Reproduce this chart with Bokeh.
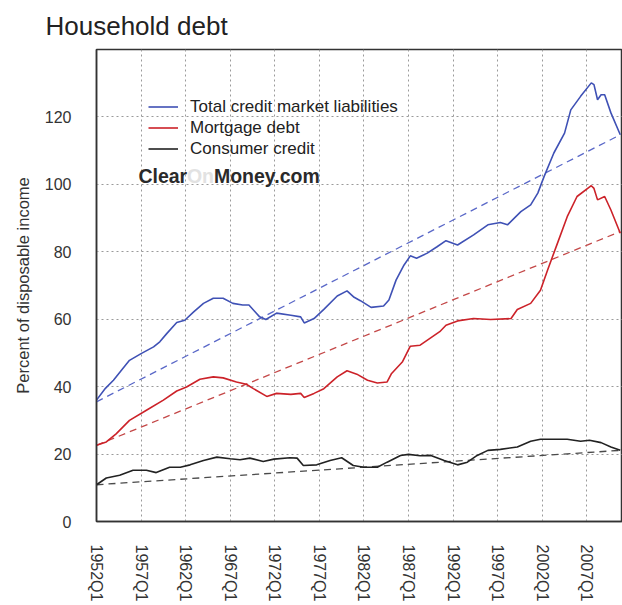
from bokeh.plotting import figure
from bokeh.models import Range1d, FixedTicker, Legend, LegendItem, Label
from bokeh.embed import file_html
from bokeh.resources import INLINE

# ---- data ----
total_x = [1952.0, 1953.0, 1953.9, 1955.0, 1955.7, 1957.0, 1958.4, 1959.1, 1959.9, 1961.0,
           1961.9, 1962.9, 1964.0, 1965.1, 1966.2, 1967.3, 1968.4, 1969.1, 1970.3, 1971.0,
           1972.2, 1973.8, 1974.9, 1975.3, 1976.4, 1977.5, 1979.0, 1980.1, 1980.9, 1981.6,
           1982.8, 1984.2, 1984.8, 1985.6, 1986.5, 1987.2, 1987.9, 1989.1, 1990.2, 1991.2,
           1992.5, 1994.3, 1995.9, 1997.3, 1998.1, 1999.6, 2000.7, 2001.5, 2002.2, 2003.3,
           2004.5, 2005.2, 2006.3, 2007.5, 2007.8, 2008.2, 2008.6, 2009.0, 2009.7, 2010.75]
total_y = [36.0, 39.5, 41.9, 45.5, 47.8, 49.8, 51.8, 53.3, 55.8, 59.0,
           59.7, 62.2, 64.7, 66.2, 66.2, 64.7, 64.2, 64.2, 60.7, 59.9,
           61.8, 61.2, 60.7, 58.9, 60.2, 62.9, 66.9, 68.4, 66.5, 65.5,
           63.5, 63.9, 65.7, 71.6, 76.1, 78.8, 78.1, 79.6, 81.5, 83.3,
           82.0, 85.0, 88.0, 88.7, 88.0, 91.9, 93.9, 97.4, 102.3, 109.3,
           115.2, 122.1, 126.1, 130.1, 129.6, 125.1, 126.6, 126.6, 121.2, 114.7]

mortgage_x = [1952.0, 1953.1, 1954.2, 1955.7, 1957.6, 1959.5, 1961.0, 1962.1, 1963.6, 1965.1,
              1966.2, 1967.7, 1968.8, 1969.6, 1971.1, 1972.2, 1973.8, 1974.9, 1975.3, 1976.4,
              1977.5, 1979.0, 1980.1, 1981.2, 1982.4, 1983.5, 1984.6, 1985.1, 1986.3, 1987.2,
              1988.3, 1989.4, 1990.5, 1991.2, 1992.5, 1994.3, 1996.2, 1998.5, 1999.2, 2000.7,
              2001.8, 2002.6, 2003.7, 2004.8, 2005.9, 2007.5, 2007.8, 2008.2, 2009.0, 2009.7,
              2010.75]
mortgage_y = [22.6, 23.6, 26.0, 30.0, 33.0, 36.0, 38.7, 39.9, 42.2, 42.9,
              42.6, 41.4, 40.7, 39.4, 37.1, 38.0, 37.7, 38.0, 36.8, 38.0,
              39.4, 42.9, 44.7, 43.7, 41.9, 41.1, 41.4, 43.9, 47.3, 52.0,
              52.3, 54.3, 56.3, 58.2, 59.5, 60.2, 59.9, 60.2, 62.9, 64.7,
              68.6, 74.6, 82.5, 90.4, 96.4, 99.6, 98.8, 95.4, 96.4, 92.4,
              85.5]

consumer_x = [1952.0, 1953.1, 1954.6, 1956.1, 1957.6, 1958.7, 1960.2, 1961.4, 1962.5, 1964.0,
              1965.5, 1967.0, 1968.1, 1969.2, 1970.7, 1971.9, 1973.7, 1974.5, 1975.2, 1976.7,
              1978.2, 1979.5, 1980.8, 1982.0, 1983.5, 1984.6, 1986.1, 1987.0, 1988.3, 1989.5,
              1991.0, 1992.5, 1993.6, 1994.7, 1995.9, 1997.3, 1999.2, 2000.7, 2001.8, 2003.7,
              2004.8, 2006.3, 2007.3, 2008.6, 2009.7, 2010.75]
consumer_y = [10.9, 12.9, 13.7, 15.2, 15.2, 14.5, 16.1, 16.1, 16.8, 18.1,
              19.1, 18.6, 18.3, 18.8, 17.8, 18.5, 18.9, 18.8, 16.6, 16.8,
              18.1, 18.9, 16.6, 16.1, 16.1, 17.6, 19.6, 19.9, 19.5, 19.6,
              18.1, 16.8, 17.6, 19.6, 21.1, 21.4, 22.1, 23.8, 24.4, 24.4,
              24.4, 23.8, 24.1, 23.4, 22.1, 21.1]

trend_x = [1952.0, 2010.75]
total_trend = [35.5, 114.7]
mortgage_trend = [22.6, 86.0]
consumer_trend = [10.9, 21.1]

tick_years = [1952, 1957, 1962, 1967, 1972, 1977, 1982, 1987, 1992, 1997, 2002, 2007]
tick_labels = ["1952Q1", "1957Q1", "1962Q1", "1967Q1", "1972Q1", "1977Q1",
               "1982Q1", "1987Q1", "1992Q1", "1997Q1", "2002Q1", "2007Q1"]
y_ticks = [0, 20, 40, 60, 80, 100, 120]
y_grid = [20, 40, 60, 80, 100, 120]
series_names = ["Total credit market liabilities", "Mortgage debt", "Consumer credit"]

FONT = "Liberation Sans"
BLUE = "#3f51b5"
RED = "#cc2229"
BLACK = "#222222"
GRID = "#9a9a9a"

p = figure(width=622, height=605, output_backend="svg", toolbar_location=None,
           x_range=Range1d(1952, 2011), y_range=Range1d(0, 140),
           min_border_left=96, min_border_right=0, min_border_bottom=84, min_border_top=0)

p.title.text = "Household debt"
p.title.text_font = FONT
p.title.text_font_size = "26px"
p.title.text_font_style = "normal"
p.title.text_color = "#222222"
p.title.align = "left"
p.title.offset = -51
p.title.standoff = 17

# frame border (top line of the plot area)
p.outline_line_color = "#333333"
p.outline_line_width = 1.5
p.outline_line_alpha = 1.0
p.background_fill_color = "white"
p.border_fill_color = "white"

# y axis
p.yaxis.ticker = FixedTicker(ticks=y_ticks)
p.yaxis.axis_label = "Percent of disposable income"
p.yaxis.axis_label_text_font = FONT
p.yaxis.axis_label_text_font_size = "16.5px"
p.yaxis.axis_label_text_font_style = "normal"
p.yaxis.axis_label_text_color = "#333333"
p.yaxis.axis_label_standoff = 10
p.yaxis.major_label_text_font = FONT
p.yaxis.major_label_text_font_size = "16px"
p.yaxis.major_label_text_color = "#333333"
p.yaxis.major_label_standoff = 25
p.yaxis.major_tick_out = 0
p.yaxis.major_tick_in = 0
p.yaxis.minor_tick_out = 0
p.yaxis.minor_tick_in = 0
p.yaxis.axis_line_color = "#333333"
p.yaxis.axis_line_width = 1.5

# x axis
p.xaxis.ticker = FixedTicker(ticks=tick_years)
p.xaxis.major_label_overrides = {yr: lbl for yr, lbl in zip(tick_years, tick_labels)}
p.xaxis.major_label_orientation = "vertical"
p.xaxis.major_label_text_font = FONT
p.xaxis.major_label_text_font_size = "16px"
p.xaxis.major_label_text_color = "#333333"
p.xaxis.major_label_standoff = 23
p.xaxis.major_tick_out = 0
p.xaxis.major_tick_in = 0
p.xaxis.minor_tick_out = 0
p.xaxis.minor_tick_in = 0
p.xaxis.axis_line_color = "#333333"
p.xaxis.axis_line_width = 1.5

# grid
p.xgrid.grid_line_color = GRID
p.xgrid.grid_line_dash = "2 3"
p.xgrid.grid_line_width = 1
p.xgrid.grid_line_alpha = 1.0
p.ygrid.ticker = FixedTicker(ticks=y_grid)
p.ygrid.grid_line_color = GRID
p.ygrid.grid_line_dash = "2 3"
p.ygrid.grid_line_width = 1
p.ygrid.grid_line_alpha = 1.0

# trend lines
p.line(trend_x, total_trend, line_color="#5a68c8", line_dash="7 5", line_width=1.3)
p.line(trend_x, mortgage_trend, line_color="#c44848", line_dash="7 5", line_width=1.3)
p.line(trend_x, consumer_trend, line_color="#4a4a4a", line_dash="7 5", line_width=1.3)

# series
r_total = p.line(total_x, total_y, line_color=BLUE, line_width=1.6)
r_mort = p.line(mortgage_x, mortgage_y, line_color=RED, line_width=1.6)
r_cons = p.line(consumer_x, consumer_y, line_color=BLACK, line_width=1.6)

legend = Legend(items=[LegendItem(label=series_names[0], renderers=[r_total]),
                       LegendItem(label=series_names[1], renderers=[r_mort]),
                       LegendItem(label=series_names[2], renderers=[r_cons])],
                location=(52, 362), padding=0, margin=0, spacing=0,
                label_height=21, glyph_height=21, glyph_width=30, label_standoff=12,
                border_line_color=None, background_fill_alpha=0,
                label_text_font=FONT, label_text_font_size="17px", label_text_color="#222222")
p.add_layout(legend)

# watermark
wm_x, wm_y = 1956.7, 102.5
for txt, dx, col in (("Clear", 0, "#2a2a2a"), ("On", 48.5, "#e2e2e2"), ("Money.com", 75.5, "#2a2a2a")):
    p.add_layout(Label(x=wm_x, y=wm_y, x_offset=dx, text=txt, text_font=FONT,
                       text_font_size="19.5px", text_font_style="bold", text_color=col,
                       text_baseline="alphabetic"))

open("out.html", "w").write(file_html(p, INLINE))
